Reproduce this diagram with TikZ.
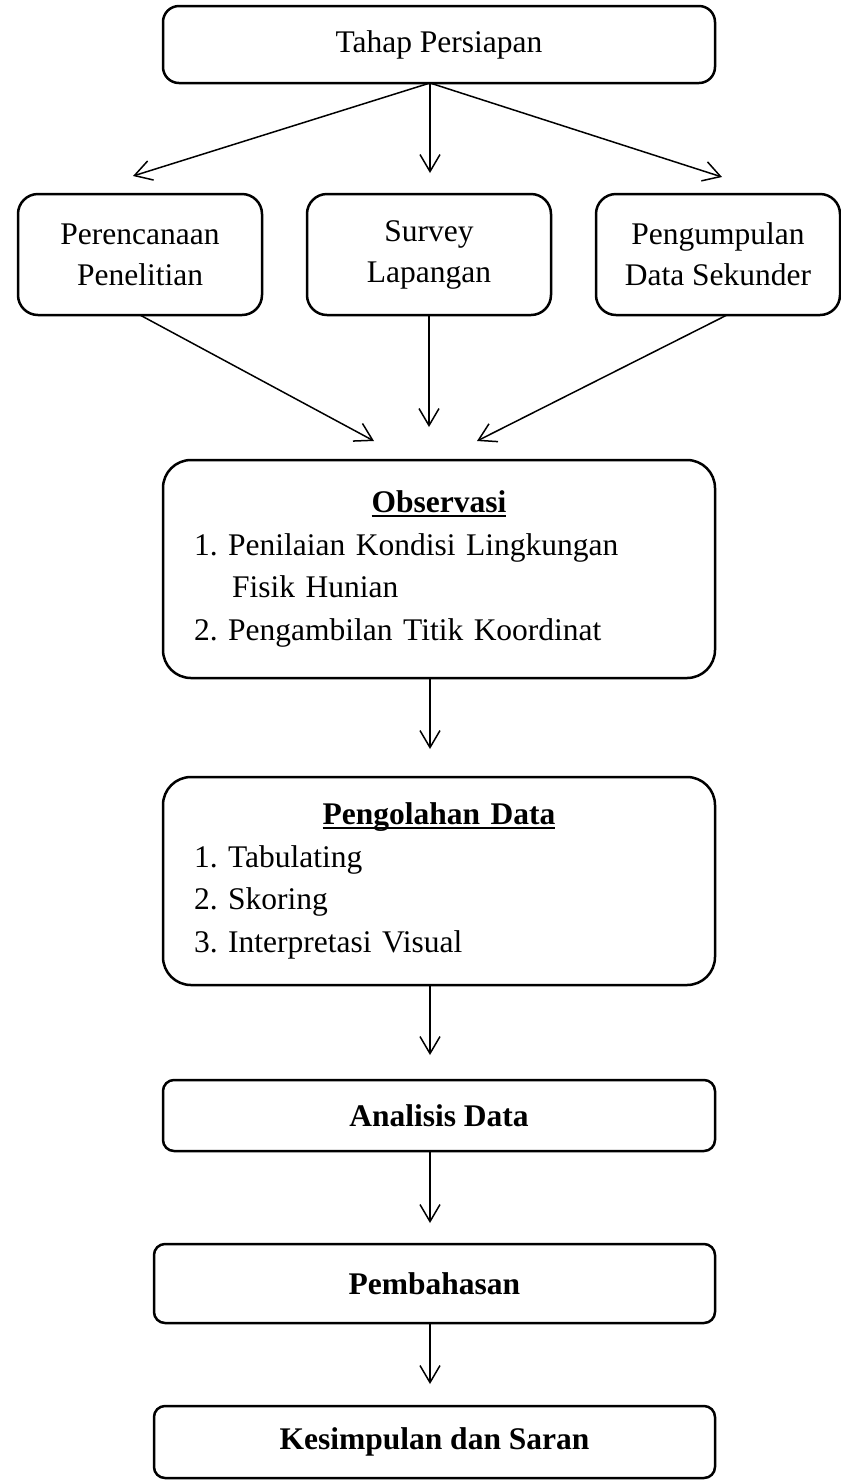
\documentclass[tikz,border=0pt]{standalone}
\usepackage{fontspec}
\setmainfont{Liberation Serif}
\usepackage{tikz}
\usetikzlibrary{positioning, arrows.meta}

% Garis bawah judul kotak
\newsavebox{\judulbox}
\newcommand{\garisjudul}[1]{\sbox{\judulbox}{#1}\rlap{\rule[-2.2pt]{\wd\judulbox}{1pt}}\usebox{\judulbox}}

\begin{document}
\begin{tikzpicture}[
        font=\fontsize{15.75pt}{20.5pt}\selectfont,
        % Gaya dasar kotak
        box/.style={
            draw=black,
            line width=1.25pt,
            rectangle,
            align=center,
            inner sep=3pt,
            outer sep=0pt
        },
        % Kotak tahap persiapan
        prepbox/.style={box, minimum width=276pt, minimum height=38.5pt, rounded corners=8pt},
        % Kotak kegiatan (baris kedua)
        rowbox/.style={box, minimum width=122pt, minimum height=60.5pt, rounded corners=10pt},
        % Kotak dengan daftar
        listbox/.style={
            box,
            minimum width=276pt,
            text width=245pt,
            inner xsep=15.5pt,
            align=left,
            rounded corners=14pt,
            font=\fontsize{15.75pt}{21.25pt}\selectfont
        },
        % Kotak tahap akhir (tebal)
        flatbox/.style={box, minimum width=276pt, rounded corners=5.5pt, font=\fontsize{15.75pt}{20.5pt}\selectfont\bfseries},
        % Panah
        arrow/.style={-{Straight Barb[length=8.5pt, width=10pt]}, line width=0.75pt}
    ]

        \useasboundingbox (0,0) rectangle (420.5pt,-740pt);

        % 1. Tahap persiapan
        \node[prepbox] (prep) at (219.5pt,-22.25pt) {Tahap Persiapan};

        % 2. Tiga kegiatan awal
        \node[rowbox, below=55.5pt of prep, xshift=-5pt] (survey) {Survey\\Lapangan};
        \node[rowbox, left=22.5pt of survey] (plan) {Perencanaan\\Penelitian};
        \node[rowbox, right=22.5pt of survey] (sekunder) {Pengumpulan\\Data Sekunder};

        % 3. Observasi
        \node[listbox, minimum height=109pt, below=72.5pt of survey, xshift=5pt] (obs) {%
            {\centering\textbf{\garisjudul{Observasi}}\par}
            \noindent 1.~Penilaian Kondisi Lingkungan\\
            \hspace*{19pt}Fisik Hunian\\
            2.~Pengambilan Titik Koordinat};

        % 4. Pengolahan data
        \node[listbox, minimum height=104pt, below=49.5pt of obs] (olah) {%
            {\centering\textbf{\garisjudul{Pengolahan Data}}\par}
            \noindent 1.~Tabulating\\
            2.~Skoring\\
            3.~Interpretasi Visual};

        % 5. Analisis, pembahasan, kesimpulan
        \node[flatbox, minimum height=35.5pt, below=47.5pt of olah] (anls) {Analisis Data};
        \node[flatbox, minimum width=280.5pt, minimum height=39.5pt, below=46.5pt of anls, xshift=-2.25pt] (bahas) {Pembahasan};
        \node[flatbox, minimum width=280.5pt, minimum height=36pt, below=41.5pt of bahas] (simp) {Kesimpulan dan Saran};

        % Panah dari tahap persiapan
        \coordinate (fork) at ([xshift=-4.5pt]prep.south);
        \draw[arrow] (fork) -- ([xshift=-3.5pt, yshift=9pt]plan.north);
        \draw[arrow, shorten >=10.5pt] (fork) -- (fork |- survey.north);
        \draw[arrow] (fork) -- ([xshift=2pt, yshift=8.5pt]sekunder.north);

        % Panah menuju observasi
        \draw[arrow] (plan.south) -- ([xshift=-32.5pt, yshift=9.5pt]obs.north);
        \draw[arrow, shorten >=16.5pt] (survey.south) -- (survey.south |- obs.north);
        \draw[arrow] ([xshift=4.5pt]sekunder.south) -- ([xshift=19pt, yshift=9.5pt]obs.north);

        % Alur utama
        \draw[arrow, shorten >=14pt] (obs.south -| fork) -- (olah.north -| fork);
        \draw[arrow, shorten >=12.5pt] (olah.south -| fork) -- (anls.north -| fork);
        \draw[arrow, shorten >=10.5pt] (anls.south -| fork) -- (bahas.north -| fork);
        \draw[arrow, shorten >=11pt] (bahas.south -| fork) -- (simp.north -| fork);

    \end{tikzpicture}
\end{document}
